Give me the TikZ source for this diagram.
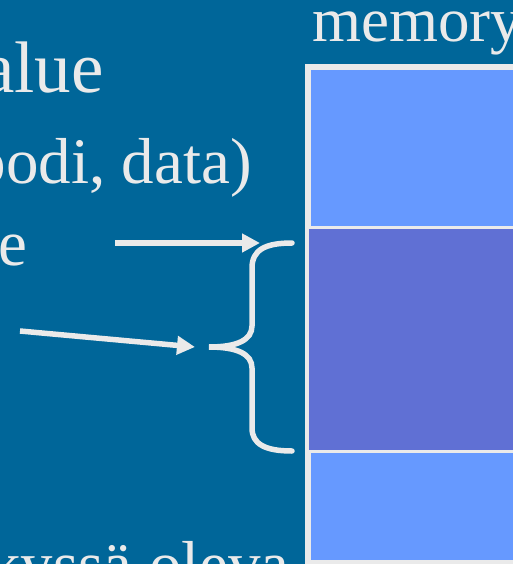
\documentclass[tikz,border=0pt]{standalone}
\usepackage{fontspec}
\setmainfont{Liberation Serif}
\usetikzlibrary{arrows.meta}
\definecolor{slidebg}{RGB}{0,102,153}
\definecolor{fg}{RGB}{234,234,234}
\definecolor{cellblue}{RGB}{102,153,255}
\definecolor{cellpurple}{RGB}{96,112,212}
\tikzset{
  txt/.style={inner sep=0pt, text=fg},
  big/.style={txt, font=\fontsize{73}{80}\selectfont},
  mid/.style={txt, font=\fontsize{65}{72}\selectfont},
  cell/.style={draw=none},
  conn/.style={draw=fg, line width=5.5pt, -{Triangle[length=18pt,width=18pt]}},
  bracestyle/.style={draw=fg, line width=5.5pt, line cap=round}
}
\begin{document}
\begin{tikzpicture}[x=1pt,y=-1pt]
  \useasboundingbox (0,0) rectangle (513,564);
  \fill[slidebg] (0,0) rectangle (513,564);
  % memory column
  \fill[fg] (305,64) rectangle (530,580);
  \fill[cellblue] (311,70) rectangle (530,226);
  \fill[cellpurple] (309,229) rectangle (530,450);
  \fill[cellblue] (311,453) rectangle (530,560);
  \node[txt, font=\fontsize{63}{70}\selectfont, anchor=base west] (mem) at (312,42) {memory};
  % texts
  \node[big, anchor=base east] (t1) at (104,93) {value};
  \node[mid, anchor=base east] (t2) at (252,183) {(koodi, data)};
  \node[mid, anchor=base east] (t3) at (28,265) {e};
  \node[mid, anchor=base east] (t4) at (290,586) {kyssä oleva};
  % arrows
  \coordinate (a1s) at (115,243);
  \coordinate (a1e) at (260,243);
  \coordinate (a2s) at (20,331);
  \coordinate (a2e) at (195,347);
  \draw[conn] (a1s) -- (a1e);
  \draw[conn] (a2s) -- (a2e);
  % brace
  \coordinate (btop) at (292,243);
  \coordinate (btip) at (209,347);
  \coordinate (bbot) at (292,451);
  \draw[bracestyle] (btop) .. controls (265,243) and (252,250) .. (252,268)
    -- (252,326) .. controls (252,340) and (237,347) .. (btip)
    .. controls (237,347) and (252,354) .. (252,368)
    -- (252,428) .. controls (252,444) and (265,451) .. (bbot);
\end{tikzpicture}
\end{document}
